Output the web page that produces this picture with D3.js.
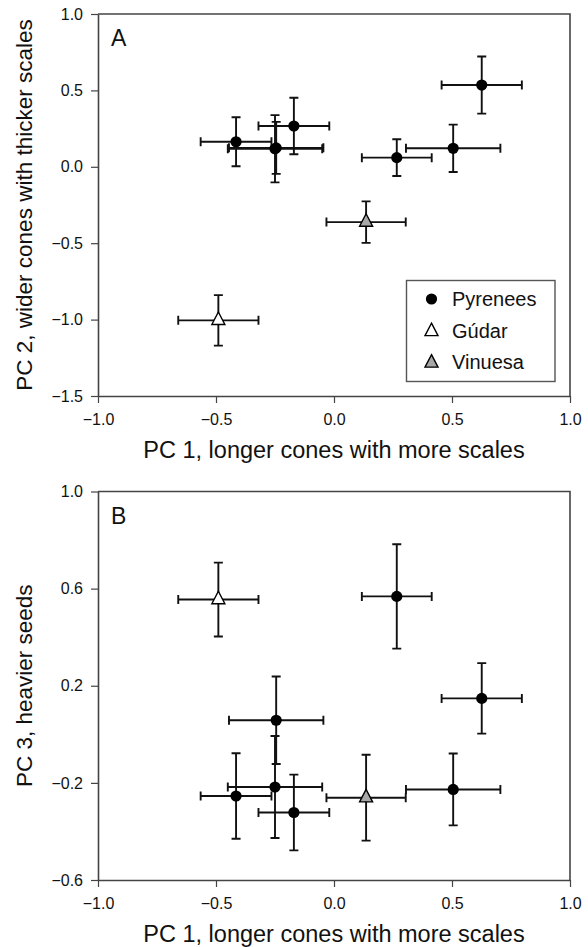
<!DOCTYPE html>
<html>
<head>
<meta charset="utf-8">
<script src="https://cdn.jsdelivr.net/npm/d3@7"></script>
<style>
  html, body { margin: 0; padding: 0; background: #fff; }
  svg { display: block; font-family: "Liberation Sans", Arial, Helvetica, sans-serif; }
</style>
</head>
<body>
<svg id="chart" width="588" height="947"></svg>
<script>
// ---- Data ----
const regions = ["Pyrenees", "Gúdar", "Vinuesa"];
// Pyrenees populations
const pyrPC1    = [-0.415, -0.245, -0.250, -0.170, 0.266, 0.505, 0.626];
const pyrPC1Err = [ 0.150,  0.200,  0.200,  0.150, 0.148, 0.200, 0.170];
const pyrPC2    = [ 0.164,  0.124,  0.118,  0.267, 0.060, 0.121, 0.535];
const pyrPC2Err = [ 0.160,  0.170,  0.220,  0.185, 0.120, 0.155, 0.187];
const pyrPC3    = [-0.254,  0.058, -0.217, -0.322, 0.568, -0.227, 0.148];
const pyrPC3Err = [ 0.176,  0.180,  0.210,  0.156, 0.215, 0.148, 0.145];
// Gúdar
const gudPC1 = [-0.490], gudPC1Err = [0.170];
const gudPC2 = [-1.005], gudPC2Err = [0.165];
const gudPC3 = [ 0.555], gudPC3Err = [0.152];
// Vinuesa
const vinPC1 = [0.136], vinPC1Err = [0.168];
const vinPC2 = [-0.362], vinPC2Err = [0.136];
const vinPC3 = [-0.261], vinPC3Err = [0.177];

const xTicks = [-1.0, -0.5, 0.0, 0.5, 1.0];
const yTicksA = [-1.5, -1.0, -0.5, 0.0, 0.5, 1.0];
const yTicksB = [-0.6, -0.2, 0.2, 0.6, 1.0];

const xTitle = "PC 1, longer cones with more scales";
const yTitleA = "PC 2, wider cones with thicker scales";
const yTitleB = "PC 3, heavier seeds";

// ---- Build point records ----
function build(pc1, pc1e, pcY, pcYe, region) {
  return pc1.map((x, i) => ({ x, xe: pc1e[i], y: pcY[i], ye: pcYe[i], region }));
}
const ptsA = [].concat(
  build(pyrPC1, pyrPC1Err, pyrPC2, pyrPC2Err, regions[0]),
  build(gudPC1, gudPC1Err, gudPC2, gudPC2Err, regions[1]),
  build(vinPC1, vinPC1Err, vinPC2, vinPC2Err, regions[2])
);
const ptsB = [].concat(
  build(pyrPC1, pyrPC1Err, pyrPC3, pyrPC3Err, regions[0]),
  build(gudPC1, gudPC1Err, gudPC3, gudPC3Err, regions[1]),
  build(vinPC1, vinPC1Err, vinPC3, vinPC3Err, regions[2])
);

const svg = d3.select("#chart");
const AXIS_COL = "#444";
const CAP = 4.5;

function triPath(cx, cy) {
  const hw = 6.5, h = 12.5;
  return `M${cx},${cy - h * 2 / 3}L${cx + hw},${cy + h / 3}L${cx - hw},${cy + h / 3}Z`;
}
const fillFor = { "Pyrenees": "#000", "Gúdar": "#fff", "Vinuesa": "#a8a8a8" };

function drawMarker(g, region, cx, cy) {
  if (region === "Pyrenees") {
    g.append("circle").attr("cx", cx).attr("cy", cy).attr("r", 5.6).attr("fill", "#000");
  } else {
    g.append("path").attr("d", triPath(cx, cy))
      .attr("fill", fillFor[region]).attr("stroke", "#000").attr("stroke-width", 1.4)
      .attr("stroke-linejoin", "miter");
  }
}

function panel(opts) {
  const { top, bottom, left, right, yDomain, yTicks, pts, yTitle, letter, legend } = opts;
  const x = d3.scaleLinear().domain([-1, 1]).range([left, right]);
  const y = d3.scaleLinear().domain(yDomain).range([bottom, top]);
  const g = svg.append("g");
  const fmt = d3.format(".1f");

  // frame (top and right)
  g.append("path")
    .attr("d", `M${left},${top}H${right}V${bottom}`)
    .attr("fill", "none").attr("stroke", AXIS_COL).attr("stroke-width", 1.6);

  const ax = g.append("g").attr("transform", `translate(0,${bottom})`)
    .call(d3.axisBottom(x).tickValues(xTicks).tickFormat(fmt).tickSize(7).tickSizeOuter(0).tickPadding(11));
  const ay = g.append("g").attr("transform", `translate(${left},0)`)
    .call(d3.axisLeft(y).tickValues(yTicks).tickFormat(fmt).tickSize(7).tickSizeOuter(0).tickPadding(8));
  [ax, ay].forEach(a => {
    a.select(".domain").attr("stroke", AXIS_COL).attr("stroke-width", 1.6);
    a.selectAll(".tick line").attr("stroke", AXIS_COL).attr("stroke-width", 1.2);
    a.selectAll(".tick text").attr("fill", "#111").style("font-size", "16px")
      .style("font-family", "'Liberation Sans', Arial, sans-serif");
  });

  // titles
  g.append("text").attr("x", (left + right) / 2).attr("y", bottom + 62)
    .attr("text-anchor", "middle").attr("font-size", 23.5).attr("fill", "#111").text(xTitle);
  g.append("text")
    .attr("transform", `translate(32,${(top + bottom) / 2}) rotate(-90)`)
    .attr("text-anchor", "middle").attr("font-size", 22.5).attr("fill", "#111").text(yTitle);
  g.append("text").attr("x", left + 13).attr("y", top + 32)
    .attr("font-size", 23).attr("fill", "#111").text(letter);

  // error bars
  const eb = g.append("g").attr("stroke", "#111").attr("stroke-width", 1.9).attr("fill", "none");
  pts.forEach(p => {
    const cx = x(p.x), cy = y(p.y);
    const x0 = x(p.x - p.xe), x1 = x(p.x + p.xe);
    const y0 = y(p.y - p.ye), y1 = y(p.y + p.ye);
    eb.append("path").attr("d",
      `M${x0},${cy}H${x1}` +
      `M${x0},${cy - CAP}V${cy + CAP}M${x1},${cy - CAP}V${cy + CAP}` +
      `M${cx},${y0}V${y1}` +
      `M${cx - CAP},${y0}H${cx + CAP}M${cx - CAP},${y1}H${cx + CAP}`);
  });
  // markers
  const mk = g.append("g");
  pts.forEach(p => drawMarker(mk, p.region, x(p.x), y(p.y)));

  if (legend) {
    const lg = g.append("g");
    lg.append("rect").attr("x", 406.5).attr("y", 280.5).attr("width", 148.5).attr("height", 101)
      .attr("fill", "#fff").attr("stroke", "#555").attr("stroke-width", 1.4);
    regions.forEach((r, i) => {
      const cy = 299 + i * 31.5;
      drawMarker(lg, r, 431.5, cy + (r === "Pyrenees" ? 0 : 1));
      lg.append("text").attr("x", 452).attr("y", cy + 7).attr("font-size", 20)
        .attr("fill", "#111").text(r);
    });
  }
}

panel({ top: 14, bottom: 396, left: 98, right: 570, yDomain: [-1.5, 1.0], yTicks: yTicksA,
        pts: ptsA, yTitle: yTitleA, letter: "A", legend: true });
panel({ top: 491.5, bottom: 880, left: 98, right: 570, yDomain: [-0.6, 1.0], yTicks: yTicksB,
        pts: ptsB, yTitle: yTitleB, letter: "B", legend: false });
</script>
</body>
</html>
